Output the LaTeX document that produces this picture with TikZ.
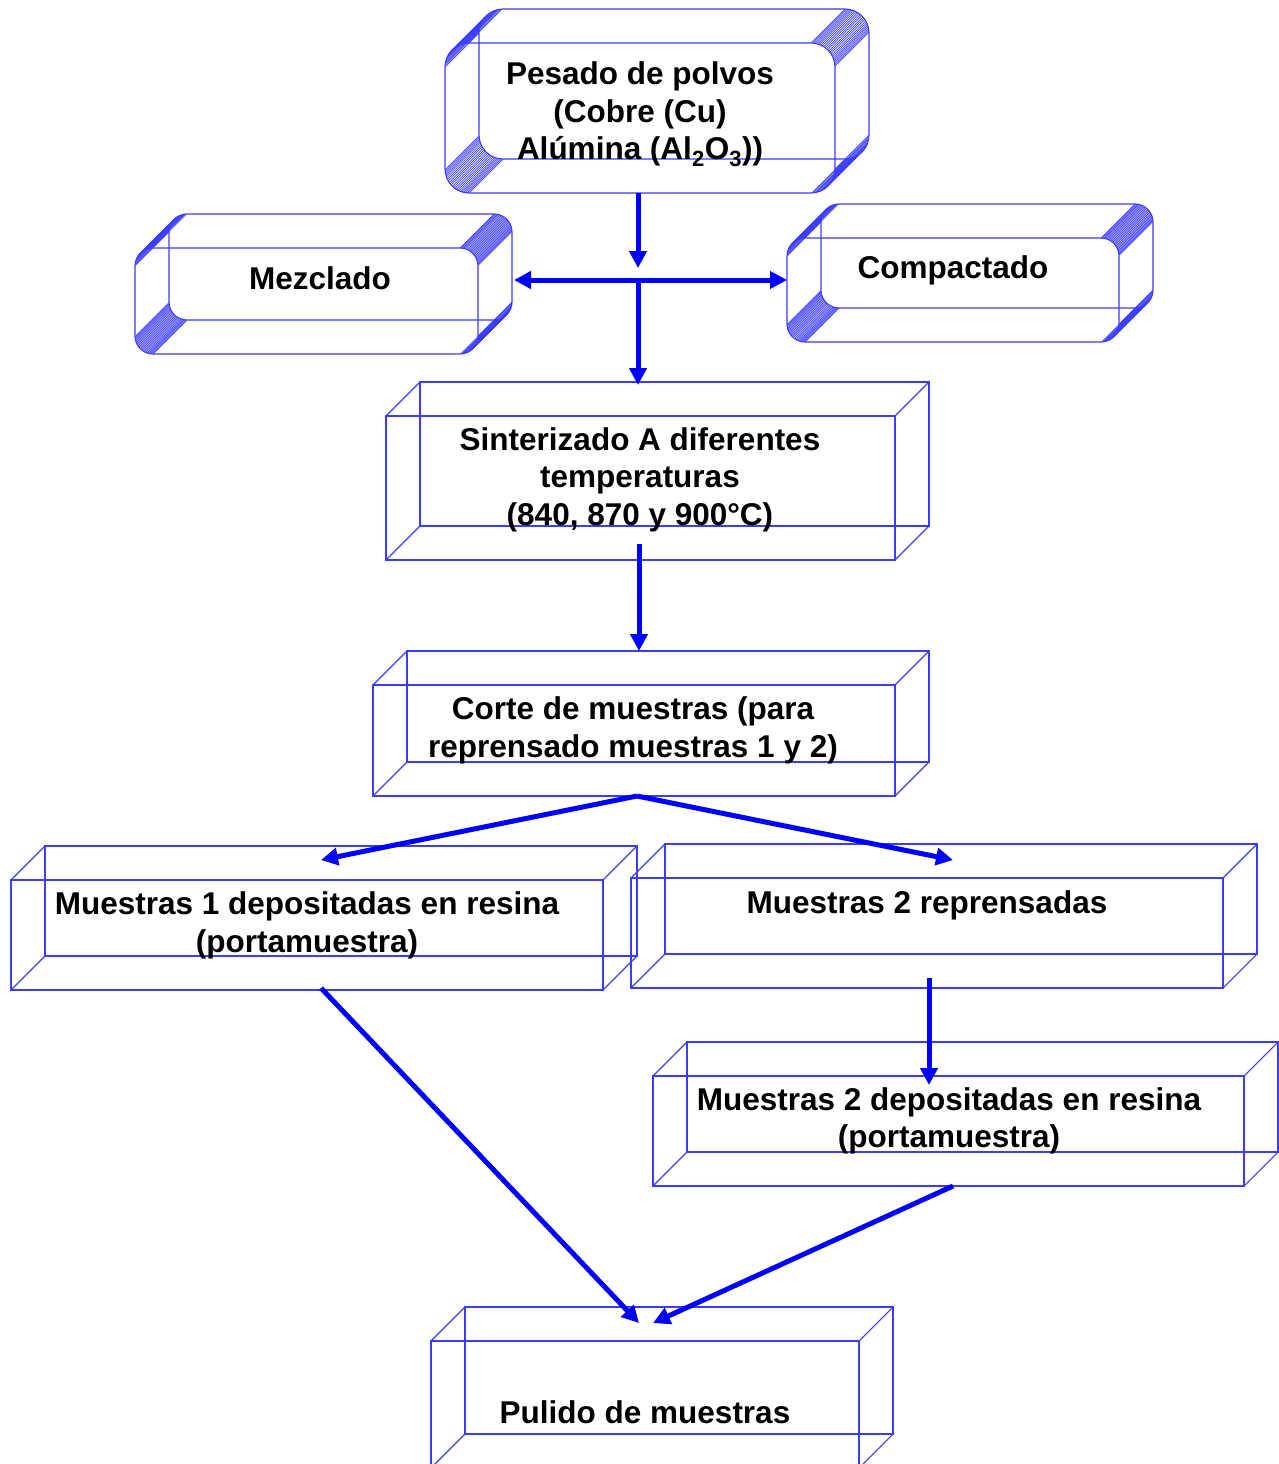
\documentclass[tikz,border=0pt]{standalone}
\usepackage{fontspec}
\setmainfont{Liberation Sans}
\usetikzlibrary{arrows.meta}
\definecolor{edgeblue}{RGB}{60,60,255}
\definecolor{flowblue}{RGB}{0,0,255}

% wire-frame box: front face, back face shifted by d up-right, joined at the corners
\newcommand\cubeshape[5]{% x0 y0 x1 y1 d
  \draw[edge] (#1,#2+#5) rectangle (#3-#5,#4);
  \draw[edge] (#1+#5,#2) rectangle (#3,#4-#5);
  \draw[edge] (#1,#2+#5) -- (#1+#5,#2)
              (#3-#5,#2+#5) -- (#3,#2)
              (#1,#4) -- (#1+#5,#4-#5)
              (#3-#5,#4) -- (#3,#4-#5);
}
% bevelled box: rounded front and back faces, each corner arc joined to its
% copy on the back face by a fan of parallel strokes
\newcommand\bevelshape[6]{% x0 y0 x1 y1 d r
  \pgfmathsetmacro\bL{#1+#6}\pgfmathsetmacro\bR{#3-#5-#6}%
  \pgfmathsetmacro\bT{#2+#5+#6}\pgfmathsetmacro\bB{#4-#6}%
  \draw[edge, rounded corners=#6pt] (#1,#2+#5) rectangle (#3-#5,#4);
  \draw[edge, rounded corners=#6pt] (#1+#5,#2) rectangle (#3,#4-#5);
  \foreach \a in {180,184,...,270}
    \draw[sweep] ({\bL+#6*cos(\a)},{\bT+#6*sin(\a)}) -- ++(#5,-#5);
  \foreach \a in {270,274,...,360}
    \draw[sweep] ({\bR+#6*cos(\a)},{\bT+#6*sin(\a)}) -- ++(#5,-#5);
  \foreach \a in {0,4,...,90}
    \draw[sweep] ({\bR+#6*cos(\a)},{\bB+#6*sin(\a)}) -- ++(#5,-#5);
  \foreach \a in {90,94,...,180}
    \draw[sweep] ({\bL+#6*cos(\a)},{\bB+#6*sin(\a)}) -- ++(#5,-#5);
}

\begin{document}
\begin{tikzpicture}[x=1pt, y=-1pt,
  edge/.style={draw=edgeblue, line width=1.1pt},
  sweep/.style={draw=edgeblue, line width=0.7pt},
  flow/.style={draw=flowblue, line width=5pt,
    -{Triangle[length=17pt, width=17pt]}},
  lbl/.style={align=center, inner sep=0pt,
    font=\bfseries\fontsize{31.5}{37.5}\selectfont}]
\useasboundingbox (0,0) rectangle (1278,1464);

% process boxes
\bevelshape{445}{9}{869}{193}{34}{24}
\bevelshape{135}{214}{512}{354}{34}{18}
\bevelshape{787}{204}{1153}{342}{34}{18}
\cubeshape{386}{382}{929}{560}{34}
\cubeshape{373}{651}{929}{796}{34}
\cubeshape{11}{846}{637}{990}{34}
\cubeshape{631}{844}{1257}{988}{34}
\cubeshape{653}{1042}{1278}{1186}{34}
\cubeshape{431}{1307}{893}{1468}{34}

% labels
\node[lbl] (pesado) at (640,114.5) {Pesado de polvos\\(Cobre (Cu)\\Alúmina (Al\textsubscript{2}O\textsubscript{3}))};
\node[lbl] (mezclado) at (320,278) {Mezclado};
\node[lbl] (compactado) at (953,270) {Compactado};
\node[lbl] (sinterizado) at (640,479.5) {Sinterizado A diferentes\\temperaturas\\(840, 870 y 900°C)};
\node[lbl] (corte) at (633,730.5) {Corte de muestras (para\\reprensado muestras 1 y 2)};
\node[lbl] (muestrasA) at (307,925.5) {Muestras 1 depositadas en resina\\(portamuestra)};
\node[lbl] (muestrasB) at (927,905) {Muestras 2 reprensadas};
\node[lbl] (muestrasC) at (949,1121) {Muestras 2 depositadas en resina\\(portamuestra)};
\node[lbl] (pulido) at (645,1412) {Pulido de muestras};

% connector ends on the box outlines
\coordinate (pesOut) at (638,193);
\coordinate (splitIn) at (638,268);
\coordinate (split) at (638,280);
\coordinate (mezIn) at (514,280);
\coordinate (compIn) at (787,280);
\coordinate (sintIn) at (638,385);
\coordinate (sintOut) at (639,544);
\coordinate (corteIn) at (639,651);
\coordinate (corteOut) at (637,796);
\coordinate (mAIn) at (321,860);
\coordinate (mBIn) at (953,860);
\coordinate (mBOut) at (929,978);
\coordinate (mCIn) at (929,1085);
\coordinate (mAOut) at (321,988);
\coordinate (mCOut) at (953,1186);
\coordinate (pulInL) at (639,1323);
\coordinate (pulInR) at (653,1323);

% flow arrows
\draw[flow] (pesOut) -- (splitIn);
\draw[flow] (split) -- (mezIn);
\draw[flow] (split) -- (compIn);
\draw[flow] (split) -- (sintIn);
\draw[flow] (sintOut) -- (corteIn);
\draw[flow] (corteOut) -- (mAIn);
\draw[flow] (corteOut) -- (mBIn);
\draw[flow] (mBOut) -- (mCIn);
\draw[flow] (mAOut) -- (pulInL);
\draw[flow] (mCOut) -- (pulInR);
\end{tikzpicture}
\end{document}
